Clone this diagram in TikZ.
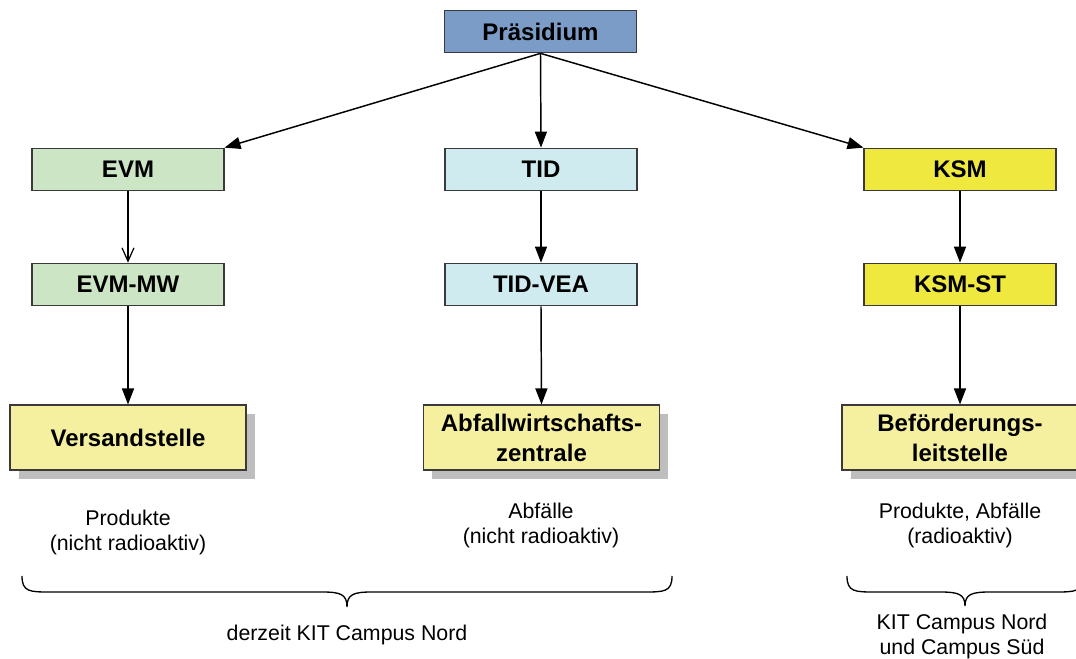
\documentclass[tikz,border=0pt]{standalone}
\usepackage{fontspec}
\setmainfont{Liberation Sans}
\usetikzlibrary{arrows.meta,shadows}
\definecolor{cpres}{HTML}{7C9CC8}
\definecolor{cevm}{HTML}{CCE5C5}
\definecolor{ctid}{HTML}{D0EBF0}
\definecolor{cksm}{HTML}{EEE83F}
\definecolor{cbot}{HTML}{F5F0A0}
\definecolor{cbord}{HTML}{3A3A3A}
\definecolor{cshad}{HTML}{BEBEBE}
\begin{document}
\begin{tikzpicture}[x=0.75pt,y=-0.75pt,
  box/.style={draw=cbord, line width=0.8pt, minimum width=144pt, minimum height=32pt, inner sep=0pt,
    font=\bfseries\fontsize{18}{22.5}\selectfont, align=center},
  bigbox/.style={box, fill=cbot, minimum width=177pt, minimum height=48.75pt,
    general shadow={fill=cshad, shadow xshift=6.5pt, shadow yshift=-6.75pt}},
  conn/.style={line width=1.1pt, -{Triangle[length=12pt,width=9pt]}},
  openconn/.style={line width=1.1pt, -{Straight Barb[length=10pt,width=9pt,line width=0.9pt]}},
  captxt/.style={font=\fontsize{16}{18.75}\selectfont, align=center, inner sep=0pt},
  bracepath/.style={line width=1pt}
]
\useasboundingbox (0,0) rectangle (1076,659);
\clip (0,0) rectangle (1076,659);

\node[box, fill=cpres] (P) at (540.5,31.5) {Präsidium};
\node[box, fill=cevm] (EVM) at (128,169.5) {EVM};
\node[box, fill=ctid] (TID) at (541,169.5) {TID};
\node[box, fill=cksm] (KSM) at (960,169.5) {KSM};
\node[box, fill=cevm] (EVMMW) at (128,284.5) {EVM-MW};
\node[box, fill=ctid] (TIDVEA) at (541,284.5) {TID-VEA};
\node[box, fill=cksm] (KSMST) at (960,284.5) {KSM-ST};

\node[bigbox] (VS) at (128,437.5) {Versandstelle};
\node[bigbox] (AWZ) at (541.5,437.5) {Abfallwirtschafts-\\zentrale};
\node[bigbox] (BLS) at (960,437.5) {Beförderungs-\\leitstelle};

\draw[conn] (P.south) -- (EVM.north east);
\draw[conn] (P.south) -- (TID.north);
\draw[conn] (P.south) -- (KSM.north west);
\draw[openconn] (EVM.south) -- (EVMMW.north);
\draw[conn] (TID.south) -- (TIDVEA.north);
\draw[conn] (KSM.south) -- (KSMST.north);
\draw[conn] (EVMMW.south) -- (VS.north);
\draw[conn] (TIDVEA.south) -- (AWZ.north);
\draw[conn] (KSMST.south) -- (BLS.north);

\node[captxt] (c1) at (128,532) {Produkte\\(nicht radioaktiv)};
\node[captxt] (c2) at (541,525) {Abfälle\\(nicht radioaktiv)};
\node[captxt] (c3) at (960,525) {Produkte, Abfälle\\(radioaktiv)};

\coordinate (b1l) at (22,576);
\coordinate (b1t) at (347,607);
\coordinate (b1r) at (672,576);
\draw[bracepath] (b1l) .. controls (22,592) and (30,592) .. (50,592) -- (322,592)
  .. controls (340,592) and (347,594) .. (b1t)
  .. controls (347,594) and (354,592) .. (372,592) -- (644,592)
  .. controls (664,592) and (672,592) .. (b1r);
\node[captxt] (l1) at (347,635) {derzeit KIT Campus Nord};

\coordinate (b2l) at (847,576);
\coordinate (b2t) at (965,606);
\coordinate (b2r) at (1083,576);
\draw[bracepath] (b2l) .. controls (847,592) and (855,592) .. (875,592) -- (940,592)
  .. controls (958,592) and (965,594) .. (b2t)
  .. controls (965,594) and (972,592) .. (990,592) -- (1055,592)
  .. controls (1075,592) and (1083,592) .. (b2r);
\node[captxt] (l2) at (962,636) {KIT Campus Nord\\und Campus Süd};
\end{tikzpicture}
\end{document}
